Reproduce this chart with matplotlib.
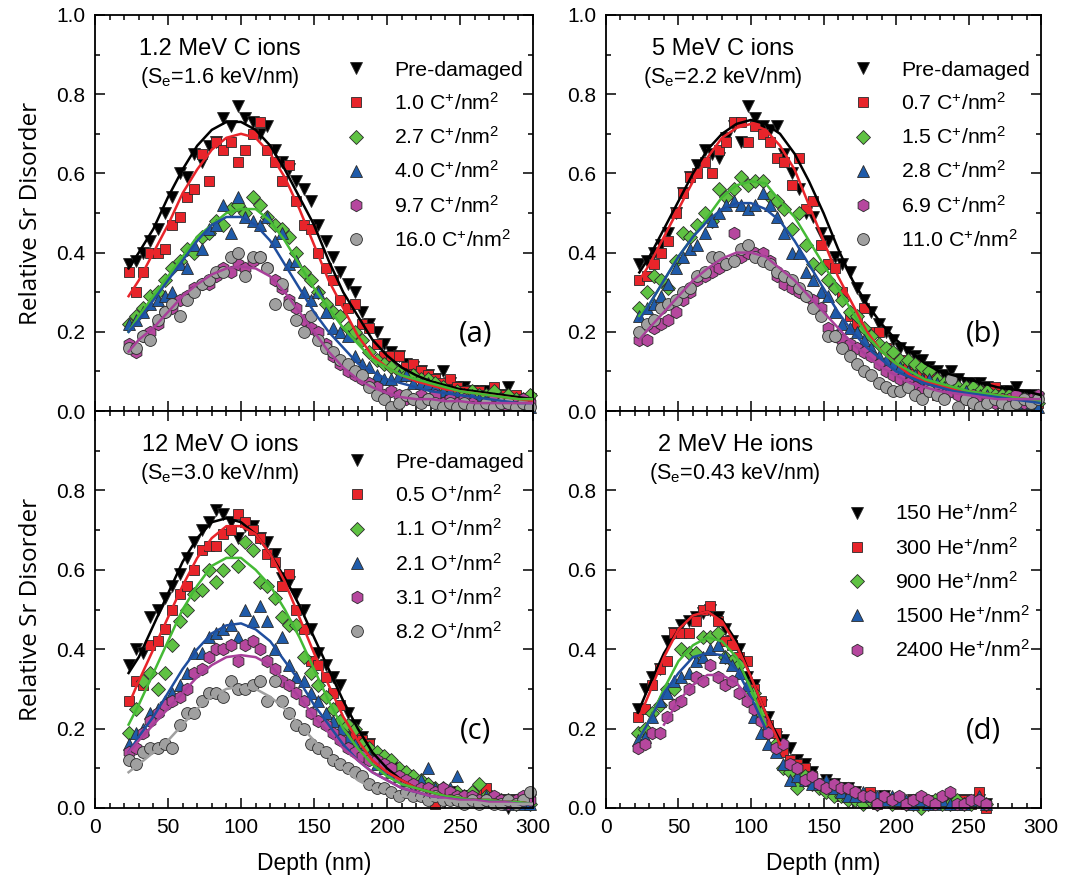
import numpy as np
import matplotlib
matplotlib.use('Agg')
import matplotlib.pyplot as plt
from matplotlib import font_manager

# depth channels (nm)
depth = np.arange(23, 299, 5)
depth_d = np.arange(22, 263, 5)
fit_depth = [23, 30, 40, 50, 60, 70, 80, 90, 100, 110, 120, 130, 140, 150, 160,
             170, 180, 190, 200, 210, 220, 230, 240, 250, 260, 270, 280, 290, 300]
fit_depth_d = [22, 30, 40, 50, 60, 70, 80, 90, 100, 110, 120]
nan = np.nan

# ---- (a) 1.2 MeV C ----
a_labels = ['Pre-damaged', '1.0 C$^{+}$/nm$^{2}$', '2.7 C$^{+}$/nm$^{2}$',
            '4.0 C$^{+}$/nm$^{2}$', '9.7 C$^{+}$/nm$^{2}$', '16.0 C$^{+}$/nm$^{2}$']
a_black = [0.37,0.38,0.40,0.43,0.46,0.50,0.54,0.60,0.59,0.65,
           0.63,0.67,0.68,0.74,0.72,0.77,0.74,0.73,0.70,0.72,
           0.66,0.63,0.61,0.58,0.56,0.53,0.47,0.43,0.39,0.35,
           0.32,0.30,0.25,0.22,0.20,0.17,0.15,0.14,0.12,0.11,
           0.10,0.09,0.08,0.10,0.07,0.06,0.06,0.05,0.05,0.05,
           0.04,0.04,0.06,0.03,0.03,0.03]
a_red = [0.35,0.30,0.35,0.40,0.40,0.41,0.47,0.49,0.54,0.56,
         0.65,0.58,0.68,0.66,0.68,0.63,0.66,0.70,0.73,0.66,
         0.63,0.58,0.62,0.53,0.47,0.46,0.40,0.36,0.33,0.28,
         0.26,0.27,0.22,0.21,0.17,0.14,0.14,0.14,0.11,0.12,
         0.10,0.09,0.08,0.07,0.08,0.06,0.05,0.04,0.05,0.04,
         0.06,0.04,0.03,0.04,0.03,0.02]
a_green = [0.22,0.24,0.26,0.29,0.30,0.33,0.36,0.38,0.41,0.40,
           0.44,0.45,0.48,0.47,0.51,0.52,0.50,0.54,0.52,0.49,
           0.47,0.46,0.44,0.40,0.35,0.33,0.30,0.27,0.25,0.24,
           0.21,0.20,0.18,0.15,0.13,0.12,0.11,0.10,0.09,0.09,
           0.08,0.08,0.07,0.06,0.05,0.05,0.04,0.05,0.04,0.04,
           0.05,0.03,0.04,0.03,0.03,0.04]
a_blue = [0.22,0.23,0.25,0.27,0.28,0.29,0.30,0.37,0.36,0.42,
          0.41,0.46,0.47,0.52,0.45,0.54,0.49,0.48,0.47,0.49,
          0.43,0.45,0.37,0.38,0.30,0.28,0.30,0.25,0.21,0.20,
          0.19,0.14,0.12,0.11,0.09,0.08,0.08,0.09,0.09,0.07,
          0.07,0.07,0.06,0.05,0.05,0.04,0.03,0.04,0.03,0.03,
          0.02,0.03,0.02,0.02,0.02,0.01]
a_purple = [0.17,0.15,0.19,0.20,0.22,0.25,0.26,0.28,0.29,0.31,
            0.32,0.32,0.34,0.36,0.35,0.37,0.36,0.38,0.39,0.36,
            0.33,0.31,0.28,0.26,0.23,0.21,0.20,0.17,0.14,0.12,
            0.10,0.09,0.08,0.07,0.06,0.04,0.05,0.04,0.03,0.03,
            0.04,0.03,0.04,0.02,0.03,0.02,0.03,0.02,0.01,0.02,
            0.03,0.02,0.01,0.02,0.03,0.02]
a_grey = [0.16,0.16,0.19,0.18,0.23,0.25,0.27,0.24,0.28,0.30,
          0.32,0.33,0.35,0.35,0.39,0.40,0.34,0.39,0.39,0.36,
          0.27,0.32,0.27,0.23,0.20,0.24,0.18,0.16,0.15,0.13,
          0.12,0.10,0.09,0.06,0.04,0.03,0.01,0.02,0.04,0.03,
          0.02,0.03,0.02,0.01,0.02,0.01,0.02,0.01,0.01,0.02,
          0.01,0.02,0.02,0.01,0.02,0.01]
a_fit_black = [0.36,0.40,0.46,0.54,0.61,0.67,0.71,0.73,0.73,0.71,0.67,0.61,0.54,0.47,0.38,
               0.30,0.24,0.18,0.14,0.11,0.09,0.075,0.065,0.055,0.05,0.045,0.04,0.035,0.03]
a_fit_red = [0.29,0.33,0.40,0.47,0.55,0.61,0.66,0.69,0.70,0.69,0.65,0.59,0.51,0.42,0.33,
             0.26,0.19,0.14,0.11,0.09,0.075,0.065,0.055,0.05,0.045,0.04,0.035,0.03,0.025]
a_fit_green = [0.20,0.24,0.29,0.34,0.39,0.44,0.47,0.50,0.51,0.51,0.48,0.43,0.37,0.31,0.26,
               0.21,0.17,0.13,0.11,0.09,0.08,0.07,0.06,0.05,0.045,0.04,0.035,0.03,0.03]
a_fit_blue = [0.20,0.23,0.28,0.33,0.38,0.43,0.47,0.49,0.49,0.47,0.43,0.37,0.31,0.25,0.20,
              0.16,0.12,0.10,0.08,0.07,0.06,0.05,0.045,0.04,0.035,0.03,0.025,0.02,0.02]
a_fit_purple = [0.15,0.18,0.21,0.25,0.29,0.32,0.345,0.36,0.365,0.36,0.34,0.30,0.25,0.20,0.15,
                0.11,0.08,0.06,0.045,0.035,0.03,0.03,0.025,0.025,0.02,0.02,0.02,0.02,0.02]

# ---- (b) 5 MeV C ----
b_labels = ['Pre-damaged', '0.7 C$^{+}$/nm$^{2}$', '1.5 C$^{+}$/nm$^{2}$',
            '2.8 C$^{+}$/nm$^{2}$', '6.9 C$^{+}$/nm$^{2}$', '11.0 C$^{+}$/nm$^{2}$']
b_black = [0.37,0.38,0.40,0.42,0.45,0.50,0.55,0.59,0.62,0.66,
           0.65,0.64,0.69,0.72,0.68,0.77,0.74,0.72,0.71,0.72,
           0.65,0.60,0.56,0.50,0.49,0.45,0.43,0.39,0.37,0.35,
           0.31,0.28,0.25,0.22,0.20,0.18,0.16,0.15,0.14,0.13,
           0.11,0.10,0.09,0.10,0.08,0.07,0.07,0.07,0.06,0.05,
           0.05,0.05,0.06,0.04,0.04,0.03]
b_red = [0.33,0.34,0.37,0.40,0.43,0.50,0.55,0.59,0.60,0.63,
         0.60,0.66,0.68,0.73,0.73,0.68,0.72,0.70,0.68,0.64,
         0.63,0.57,0.64,0.51,0.53,0.42,0.37,0.36,0.30,0.24,
         0.22,0.26,0.20,0.20,0.16,0.14,0.13,0.11,0.12,0.10,
         0.08,0.04,0.07,0.06,0.05,0.04,0.05,0.05,0.04,0.06,
         0.04,0.03,0.02,0.03,0.02,0.02]
b_green = [0.26,0.30,0.34,0.33,0.31,0.38,0.45,0.44,0.47,0.50,
           0.48,0.56,0.54,0.56,0.59,0.57,0.58,0.58,0.54,0.53,
           0.51,0.46,0.50,0.42,0.37,0.36,0.33,0.31,0.28,0.25,
           0.24,0.21,0.19,0.17,0.16,0.15,0.13,0.13,0.12,0.11,
           0.10,0.08,0.07,0.07,0.06,0.06,0.06,0.05,0.05,0.04,
           0.04,0.04,0.03,0.03,0.02,0.02]
b_blue = [0.24,0.26,0.27,0.29,0.32,0.36,0.39,0.41,0.42,0.45,
          0.48,0.50,0.52,0.53,0.52,0.51,0.52,0.55,0.52,0.49,
          0.45,0.40,0.40,0.35,0.33,0.30,0.29,0.25,0.22,0.21,
          0.20,0.18,0.16,0.14,0.13,0.12,0.11,0.10,0.09,0.08,
          0.08,0.07,0.06,0.06,0.05,0.05,0.04,0.04,0.04,0.03,
          0.03,0.03,0.02,0.02,0.02,0.01]
b_purple = [0.18,0.18,0.21,0.22,0.23,0.25,0.28,0.30,0.33,0.34,
            0.35,0.36,0.37,0.45,0.39,0.40,0.40,0.40,0.38,0.34,
            0.32,0.31,0.30,0.29,0.28,0.26,0.21,0.19,0.18,0.17,
            0.16,0.15,0.14,0.12,0.10,0.09,0.08,0.07,0.06,0.05,
            0.06,0.05,0.04,0.05,0.04,0.03,0.04,0.03,0.03,0.02,
            0.03,0.03,0.04,0.02,0.03,0.04]
b_grey = [0.20,0.22,0.23,0.26,0.27,0.28,0.30,0.31,0.34,0.35,
          0.39,0.39,0.37,0.38,0.41,0.42,0.39,0.38,0.37,0.35,
          0.34,0.33,0.31,0.29,0.26,0.24,0.19,0.19,0.16,0.14,
          0.12,0.10,0.09,0.07,0.06,0.05,0.05,0.06,0.04,0.03,
          0.05,0.04,0.03,0.08,0.01,0.03,0.02,0.01,0.02,0.03,
          0.02,0.01,0.02,0.03,0.02,0.03]
b_fit_black = [0.35,0.39,0.46,0.53,0.60,0.66,0.70,0.725,0.735,0.725,0.70,0.65,0.58,0.50,0.41,
               0.33,0.27,0.22,0.18,0.15,0.12,0.10,0.09,0.08,0.07,0.06,0.055,0.05,0.04]
b_fit_red = [0.33,0.37,0.44,0.51,0.58,0.64,0.69,0.715,0.725,0.71,0.67,0.61,0.52,0.43,0.34,
             0.27,0.20,0.15,0.12,0.09,0.075,0.065,0.055,0.05,0.045,0.04,0.035,0.03,0.025]
b_fit_green = [0.24,0.27,0.33,0.39,0.44,0.49,0.54,0.57,0.58,0.575,0.53,0.49,0.43,0.37,0.31,
               0.25,0.19,0.15,0.12,0.10,0.08,0.07,0.06,0.05,0.045,0.04,0.035,0.03,0.025]
b_fit_blue = [0.23,0.27,0.33,0.39,0.44,0.48,0.51,0.525,0.525,0.51,0.48,0.43,0.37,0.31,0.25,
              0.20,0.16,0.13,0.10,0.085,0.07,0.06,0.05,0.045,0.04,0.035,0.03,0.025,0.02]
b_fit_purple = [0.18,0.21,0.25,0.29,0.33,0.36,0.385,0.40,0.40,0.39,0.36,0.33,0.29,0.25,0.21,
                0.17,0.14,0.11,0.09,0.07,0.06,0.05,0.045,0.04,0.035,0.03,0.03,0.03,0.03]

# ---- (c) 12 MeV O ----
c_labels = ['Pre-damaged', '0.5 O$^{+}$/nm$^{2}$', '1.1 O$^{+}$/nm$^{2}$',
            '2.1 O$^{+}$/nm$^{2}$', '3.1 O$^{+}$/nm$^{2}$', '8.2 O$^{+}$/nm$^{2}$']
c_black = [0.36,0.40,0.39,0.48,0.50,0.53,0.56,0.59,0.63,0.67,
           0.70,0.72,0.75,0.74,0.72,0.68,0.71,0.71,0.68,0.67,
           0.64,0.58,0.57,0.54,0.50,0.45,0.39,0.36,0.33,0.31,
           0.24,0.21,0.18,0.16,0.13,0.11,0.10,0.09,0.08,0.06,
           0.06,0.05,0.04,0.04,0.04,0.03,0.03,0.03,0.02,0.03,
           0.02,0.02,0.00,0.02,0.02,0.02]
c_red = [0.27,0.32,0.31,0.41,0.42,0.45,0.50,0.54,0.56,0.60,
         0.65,0.66,0.66,0.69,0.70,0.74,0.72,0.70,0.68,0.64,
         0.62,0.56,0.59,0.50,0.45,0.37,0.36,0.33,0.29,0.26,
         0.20,0.18,0.17,0.16,0.13,0.11,0.09,0.08,0.07,0.06,
         0.05,0.04,0.01,0.04,0.03,0.03,0.02,0.03,0.04,0.05,
         0.02,0.02,0.01,0.02,0.01,0.02]
c_green = [0.19,0.25,0.32,0.34,0.30,0.34,0.41,0.47,0.50,0.54,
           0.55,0.60,0.57,0.60,0.65,0.61,0.67,0.65,0.57,0.56,
           0.53,0.48,0.46,0.46,0.38,0.34,0.31,0.28,0.25,0.22,
           0.21,0.20,0.16,0.15,0.14,0.13,0.12,0.10,0.09,0.08,
           0.07,0.06,0.05,0.05,0.04,0.04,0.03,0.04,0.06,0.03,
           0.02,0.02,0.02,0.01,0.02,0.01]
c_blue = [0.16,0.19,0.20,0.24,0.25,0.27,0.29,0.31,0.34,0.39,
          0.39,0.43,0.44,0.45,0.46,0.43,0.50,0.47,0.51,0.47,
          0.40,0.43,0.36,0.33,0.32,0.29,0.27,0.24,0.22,0.20,
          0.18,0.16,0.14,0.13,0.11,0.10,0.09,0.08,0.07,0.06,
          0.07,0.10,0.05,0.04,0.05,0.08,0.03,0.03,0.02,0.03,
          0.02,0.02,0.01,0.02,0.01,0.01]
c_purple = [0.14,0.15,0.19,0.22,0.24,0.26,0.27,0.28,0.30,0.34,
            0.35,0.38,0.40,0.40,0.41,0.37,0.41,0.42,0.40,0.37,
            0.35,0.32,0.31,0.29,0.27,0.24,0.22,0.21,0.19,0.17,
            0.15,0.14,0.13,0.12,0.12,0.11,0.10,0.08,0.07,0.06,
            0.05,0.05,0.04,0.05,0.04,0.03,0.03,0.03,0.02,0.02,
            0.03,0.02,0.01,0.02,0.03,0.02]
c_grey = [0.12,0.11,0.14,0.15,0.15,0.16,0.15,0.21,0.24,0.24,
          0.27,0.29,0.29,0.28,0.32,0.30,0.30,0.31,0.32,0.27,
          0.32,0.27,0.24,0.21,0.20,0.16,0.15,0.14,0.12,0.11,
          0.10,0.09,0.08,0.06,0.05,0.05,0.04,0.03,0.04,0.03,
          0.03,0.02,0.03,0.02,0.02,0.02,0.01,0.02,0.01,0.02,
          0.01,0.01,0.02,0.01,0.02,0.04]
c_fit_black = [0.34,0.38,0.46,0.54,0.62,0.68,0.72,0.73,0.72,0.69,0.64,0.58,0.51,0.43,0.35,
               0.27,0.20,0.14,0.10,0.07,0.05,0.04,0.03,0.025,0.02,0.02,0.015,0.015,0.01]
c_fit_red = [0.26,0.32,0.40,0.48,0.56,0.63,0.68,0.71,0.71,0.69,0.64,0.57,0.48,0.39,0.31,
             0.23,0.17,0.12,0.09,0.07,0.05,0.04,0.03,0.025,0.02,0.02,0.015,0.015,0.01]
c_fit_green = [0.21,0.26,0.34,0.42,0.50,0.56,0.61,0.63,0.63,0.60,0.56,0.50,0.43,0.35,0.27,
               0.20,0.15,0.11,0.08,0.06,0.05,0.04,0.03,0.025,0.02,0.02,0.015,0.015,0.01]
c_fit_blue = [0.14,0.18,0.23,0.29,0.35,0.40,0.44,0.46,0.465,0.45,0.42,0.37,0.32,0.26,0.21,
              0.16,0.12,0.09,0.07,0.05,0.04,0.03,0.025,0.02,0.02,0.015,0.015,0.01,0.01]
c_fit_purple = [0.14,0.17,0.21,0.25,0.29,0.33,0.36,0.38,0.385,0.38,0.36,0.32,0.28,0.23,0.19,
                0.15,0.12,0.09,0.07,0.05,0.04,0.03,0.025,0.02,0.02,0.015,0.015,0.01,0.01]
c_fit_grey = [0.09,0.11,0.14,0.17,0.21,0.25,0.28,0.30,0.305,0.30,0.28,0.25,0.21,0.17,0.13,
              0.10,0.07,0.05,0.04,0.03,0.025,0.02,0.02,0.015,0.015,0.01,0.01,0.01,0.01]

# ---- (d) 2 MeV He ----
d_labels = ['150 He$^{+}$/nm$^{2}$', '300 He$^{+}$/nm$^{2}$', '900 He$^{+}$/nm$^{2}$',
            '1500 He$^{+}$/nm$^{2}$', '2400 He$^{+}$/nm$^{2}$']
d_black = [0.25,0.30,0.33,0.35,0.42,0.44,0.46,0.47,0.48,0.49,
           0.50,0.48,0.45,0.42,0.40,0.33,0.31,0.26,0.23,0.18,
           0.17,0.15,0.12,0.11,0.09,0.06,0.07,0.06,0.05,0.05,
           0.04,0.03,0.03,0.02,0.03,0.02,0.02,0.01,0.02,0.02,
           0.01,0.01,0.02,0.01,0.01,0.02,0.01,0.02,0.01]
d_red = [0.23,0.25,0.31,0.35,0.37,0.44,0.44,0.44,0.47,0.50,
         0.51,0.47,0.42,0.41,0.38,0.37,0.30,0.27,0.21,0.19,
         0.14,0.12,0.11,0.10,0.08,0.06,0.05,0.04,0.03,0.04,
         0.03,0.02,0.04,0.01,0.02,0.02,0.01,0.01,0.02,0.01,
         0.02,0.01,0.02,0.01,0.01,0.02,0.01,0.04,0.00]
d_green = [0.19,0.20,0.24,0.26,0.30,0.30,0.40,0.39,0.39,0.43,
           0.43,0.44,0.38,0.37,0.36,0.29,0.29,0.24,0.19,0.16,
           0.10,0.09,0.05,0.08,0.06,0.05,0.04,0.03,0.03,0.02,
           0.02,0.01,0.02,0.01,0.02,0.01,0.02,0.01,0.01,0.00,
           0.01,0.02,0.01,0.01,0.02,0.01,0.01,0.02,0.01]
d_blue = [0.17,0.18,0.23,0.27,0.29,0.32,0.33,0.34,0.37,0.38,
          0.40,0.41,0.38,0.36,0.34,0.31,0.23,0.19,0.16,0.14,
          0.11,0.07,0.08,0.07,0.06,0.06,0.07,0.05,0.04,0.03,
          0.03,0.04,0.03,0.03,0.02,0.03,0.02,0.02,0.01,0.02,
          0.01,0.01,0.02,0.01,0.01,0.01,0.02,0.03,0.01]
d_purple = [0.15,0.16,0.19,0.19,0.23,0.26,0.27,0.30,0.33,0.32,
            0.36,0.33,0.31,0.32,0.29,0.27,0.25,0.22,0.19,0.15,
            0.16,0.11,0.10,0.07,0.08,0.06,0.05,0.06,0.05,0.05,
            0.04,0.03,0.03,0.01,0.03,0.02,0.03,0.01,0.02,0.03,
            0.02,0.01,0.03,0.04,0.01,0.01,0.02,0.02,0.01]
d_fit_black = [0.24,0.31,0.39,0.45,0.485,0.495,0.475,0.42,0.33,0.24,0.17]
d_fit_red = [0.22,0.29,0.38,0.45,0.485,0.495,0.47,0.41,0.33,0.24,0.16]
d_fit_green = [0.17,0.22,0.30,0.37,0.41,0.43,0.42,0.38,0.30,0.21,nan]
d_fit_blue = [0.17,0.22,0.29,0.34,0.38,0.39,0.385,0.35,0.28,0.20,nan]
d_fit_purple = [nan,nan,0.21,0.27,0.31,0.335,0.335,0.315,0.27,nan,nan]

# styles: marker, face colour, line colour, marker size
styles = {
    'black':  ('v', '#000000', '#000000', 8.5),
    'red':    ('s', '#E8242A', '#E8242A', 7.8),
    'green':  ('D', '#5FC243', '#45BA35', 6.8),
    'blue':   ('^', '#1F5BAA', '#1F4E9E', 8.5),
    'purple': ('h', '#B6479E', '#A8409A', 9.0),
    'grey':   ('o', '#A0A0A0', '#A0A0A0', 8.5),
}

names = {f.name for f in font_manager.fontManager.ttflist}
tick_font = 'Liberation Sans Narrow' if 'Liberation Sans Narrow' in names else 'Liberation Sans'

plt.rcParams['font.family'] = ['Liberation Sans', 'DejaVu Sans']
plt.rcParams['mathtext.fontset'] = 'custom'
plt.rcParams['mathtext.rm'] = 'Liberation Sans'
plt.rcParams['mathtext.it'] = 'Liberation Sans:italic'
plt.rcParams['mathtext.bf'] = 'Liberation Sans:bold'

fig = plt.figure(figsize=(10.65, 8.92), dpi=100)
ax_a = fig.add_axes([0.0892, 0.5392, 0.4113, 0.4440])
ax_b = fig.add_axes([0.5690, 0.5392, 0.4085, 0.4440])
ax_c = fig.add_axes([0.0892, 0.0942, 0.4113, 0.4450])
ax_d = fig.add_axes([0.5690, 0.0942, 0.4085, 0.4450])


def draw(ax, x, series, fx, fits, labels, keys):
    handles = []
    for ys, lab, k in zip(series, labels, keys):
        m, fc, lc, ms = styles[k]
        h, = ax.plot(x, ys, ls='none', marker=m, ms=ms, mfc=fc, mec='#2a2a2a',
                     mew=0.6, label=lab, clip_on=False, zorder=2)
        handles.append(h)
    for fy, k in zip(fits, keys):
        if fy is None:
            continue
        ax.plot(fx, fy, '-', color=styles[k][2], lw=1.8, zorder=3)
    return handles


def style_axes(ax, show_x, show_top_label):
    ax.set_xlim(0, 300)
    ax.set_ylim(0, 1.0)
    ax.set_xticks(np.arange(0, 301, 50))
    ax.set_xticks(np.arange(0, 301, 10), minor=True)
    ax.set_yticks(np.arange(0, 1.01, 0.2))
    ax.set_yticks(np.arange(0, 1.01, 0.1), minor=True)
    ax.tick_params(which='both', direction='in', top=True, right=True, width=1.1,
                   labelsize=15, pad=7)
    ax.tick_params(which='major', length=7)
    ax.tick_params(which='minor', length=3.5)
    for sp in ax.spines.values():
        sp.set_linewidth(1.3)
    if not show_x:
        ax.set_xticklabels([])
    ylabs = ['%.1f' % v for v in np.arange(0, 1.01, 0.2)]
    if not show_top_label:
        ylabs[-1] = ''
    ax.set_yticklabels(ylabs)
    for t in ax.get_xticklabels() + ax.get_yticklabels():
        t.set_fontfamily(tick_font)


keys6 = ['black', 'red', 'green', 'blue', 'purple', 'grey']
keys5 = ['black', 'red', 'green', 'blue', 'purple']

ha = draw(ax_a, depth, [a_black, a_red, a_green, a_blue, a_purple, a_grey], fit_depth,
          [a_fit_black, a_fit_red, a_fit_green, a_fit_blue, a_fit_purple, None], a_labels, keys6)
hb = draw(ax_b, depth, [b_black, b_red, b_green, b_blue, b_purple, b_grey], fit_depth,
          [b_fit_black, b_fit_red, b_fit_green, b_fit_blue, b_fit_purple, None], b_labels, keys6)
hc = draw(ax_c, depth, [c_black, c_red, c_green, c_blue, c_purple, c_grey], fit_depth,
          [c_fit_black, c_fit_red, c_fit_green, c_fit_blue, c_fit_purple, c_fit_grey], c_labels, keys6)
hd = draw(ax_d, depth_d, [d_black, d_red, d_green, d_blue, d_purple], fit_depth_d,
          [d_fit_black, d_fit_red, d_fit_green, d_fit_blue, d_fit_purple], d_labels, keys5)

style_axes(ax_a, False, True)
style_axes(ax_b, False, True)
style_axes(ax_c, True, False)
style_axes(ax_d, True, False)

leg_kw = dict(frameon=False, loc='upper left', fontsize=15.3, borderaxespad=0, borderpad=0,
              handlelength=1.0, handletextpad=1.3, labelspacing=0.58)
ax_a.legend(handles=ha, bbox_to_anchor=(0.571, 0.885), **leg_kw)
ax_b.legend(handles=hb, bbox_to_anchor=(0.566, 0.885), **leg_kw)
ax_c.legend(handles=hc, bbox_to_anchor=(0.573, 0.895), **leg_kw)
ax_d.legend(handles=hd, bbox_to_anchor=(0.552, 0.770), **leg_kw)

titles = [(ax_a, '1.2 MeV C ions', '(S$_{\\mathrm{e}}$=1.6 keV/nm)', '(a)', 0.285),
          (ax_b, '5 MeV C ions', '(S$_{\\mathrm{e}}$=2.2 keV/nm)', '(b)', 0.269),
          (ax_c, '12 MeV O ions', '(S$_{\\mathrm{e}}$=3.0 keV/nm)', '(c)', 0.285),
          (ax_d, '2 MeV He ions', '(S$_{\\mathrm{e}}$=0.43 keV/nm)', '(d)', 0.297)]
for ax, t1, t2, tag, xc in titles:
    ax.text(xc, 0.915, t1, transform=ax.transAxes, ha='center', va='center', fontsize=17)
    ax.text(xc, 0.843, t2, transform=ax.transAxes, ha='center', va='center', fontsize=15.5)
    ax.text(0.868, 0.195, tag, transform=ax.transAxes, ha='center', va='center',
            fontsize=21, fontfamily=['Open Sans', 'DejaVu Sans'])

for ax in (ax_a, ax_c):
    ax.set_ylabel('Relative Sr Disorder', fontsize=17.5, fontfamily=['Open Sans', 'DejaVu Sans'])
    ax.yaxis.set_label_coords(-0.118, 0.5)
for ax in (ax_c, ax_d):
    ax.set_xlabel('Depth (nm)', fontsize=16.5, fontfamily=[tick_font, 'DejaVu Sans'])
    ax.xaxis.set_label_coords(0.5, -0.11)

fig.savefig('out.png', dpi=100, facecolor='white')
